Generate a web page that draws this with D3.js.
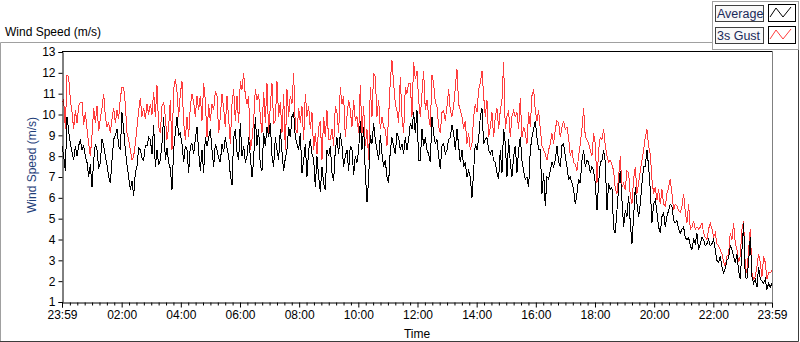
<!DOCTYPE html>
<html><head><meta charset="utf-8">
<script src="https://cdn.jsdelivr.net/npm/d3@7"></script>
<style>
html,body{margin:0;padding:0;background:#fff;}
svg{display:block;font-family:"Liberation Sans",Arial,sans-serif;}
</style></head>
<body><svg id="c" width="800" height="342"></svg>
<script>
// ---- data ----
const seriesNames = ["Average", "3s Gust"];
const startTime = new Date(2020, 0, 1, 23, 59);
const stepSeconds = 202.8;
const gust = [
10.6,10.7,9.3,11.9,11.8,10.7,10.1,9.3,10.2,9.6,10.4,10.6,10.6,9.5,10.1,9.3,8.6,8.0,9.0,10.3,9.6,10.4,9.2,9.8,10.3,11.0,9.9,9.4,9.6,9.1,9.8,10.3,9.6,10.2,9.8,10.8,11.3,11.3,10.5,9.1,8.8,8.3,7.8,8.0,8.6,9.4,10.2,10.8,9.9,10.3,9.8,10.5,10.0,
10.5,10.0,11.1,9.9,11.4,9.4,9.1,10.4,10.6,9.9,8.8,9.4,10.7,8.3,11.2,11.7,11.1,9.9,11.0,11.6,9.6,8.8,9.9,8.9,10.4,11.0,10.6,9.9,10.9,10.2,10.9,9.7,11.5,10.7,8.9,10.5,9.7,10.5,10.2,11.1,10.9,9.1,9.9,11.0,10.3,9.4,10.9,9.8,8.6,10.5,11.2,9.7,10.9,9.6,
11.6,11.2,12.0,10.9,10.5,10.9,8.3,8.8,9.7,11.2,10.7,11.0,9.9,9.1,11.1,9.6,11.5,9.1,10.4,11.5,9.6,9.7,11.6,9.9,10.6,9.1,11.0,8.3,11.2,9.9,10.9,10.5,12.0,9.4,9.1,10.3,9.6,10.4,8.8,11.0,9.9,10.4,9.3,10.1,8.3,9.1,8.1,9.4,9.7,7.8,9.9,8.9,10.2,8.8,
8.8,9.3,8.5,10.4,10.1,9.1,11.3,10.5,10.9,8.9,9.9,10.7,10.2,9.4,10.7,9.7,9.9,9.1,11.4,9.1,10.4,8.5,9.3,7.8,11.3,9.9,12.0,11.8,9.9,10.7,9.3,9.9,9.4,9.3,8.5,9.9,11.6,12.6,11.5,10.5,10.2,9.6,11.8,9.9,9.1,11.3,11.0,11.5,11.5,9.9,12.5,11.7,12.1,10.7,
9.9,11.0,12.1,10.2,10.7,9.9,9.4,11.9,11.5,10.6,10.4,9.4,9.1,10.1,10.2,9.7,10.4,11.2,10.2,9.9,10.4,11.3,12.2,10.5,10.2,9.9,9.3,9.7,8.6,9.1,8.3,8.6,9.9,10.5,10.1,11.2,11.5,12.1,10.9,9.9,10.7,8.9,9.4,10.1,8.9,9.9,10.3,9.3,10.2,10.7,12.5,9.3,9.9,10.2,
8.9,9.9,10.2,9.9,10.1,9.3,10.8,8.9,9.4,9.1,8.6,10.1,9.4,10.9,11.2,10.2,9.7,10.2,9.3,8.5,8.3,8.1,7.8,8.3,8.6,9.1,8.6,9.3,9.7,9.6,8.9,9.4,9.7,9.3,9.4,8.9,8.0,8.3,7.7,7.6,7.3,8.0,8.6,9.3,10.3,8.9,8.8,8.6,8.3,8.0,9.1,8.6,6.7,8.3,
8.9,8.8,9.3,8.5,8.0,7.7,7.8,7.6,7.3,6.4,6.2,7.0,8.0,6.5,6.7,6.4,7.3,7.2,6.1,5.7,6.9,7.5,6.2,6.7,7.3,7.8,8.3,8.9,9.3,8.5,8.1,6.9,6.2,6.5,5.9,6.4,5.7,6.4,5.7,5.6,6.2,6.5,6.9,6.2,5.4,5.7,5.6,5.4,5.3,5.6,6.2,5.3,4.8,5.7,
4.5,4.6,4.9,4.5,4.6,4.5,4.6,4.8,4.3,4.1,4.0,4.5,4.8,4.5,4.1,4.3,3.8,3.7,3.5,3.3,2.9,2.7,3.2,3.3,4.3,4.0,4.8,3.8,3.5,2.9,3.2,4.5,4.9,2.7,2.4,3.5,4.5,2.4,2.1,2.2,2.7,3.3,2.9,2.2,3.2,2.9,2.1,2.4,2.4,2.5
];
const average = [
8.5,8.0,7.3,9.9,9.2,8.6,8.2,7.8,8.5,8.0,8.5,8.8,8.3,8.5,8.0,7.7,7.0,7.6,6.5,7.8,8.6,8.3,7.4,7.7,8.8,8.5,8.0,7.6,7.0,6.7,7.8,8.8,9.0,9.3,8.5,8.3,10.1,9.3,8.3,7.6,7.0,6.4,6.8,6.1,7.2,7.5,8.4,8.3,7.9,7.8,8.5,8.5,8.9,
8.8,8.1,9.5,7.5,8.3,7.6,7.8,8.6,9.9,7.8,8.4,7.7,7.4,6.4,8.3,9.1,9.9,9.0,9.1,8.6,7.7,8.5,8.3,7.2,8.5,8.6,8.1,8.8,9.4,8.2,7.3,8.3,7.2,8.9,8.5,8.9,9.3,8.3,7.5,8.6,8.3,7.9,7.7,8.6,8.2,8.9,8.4,8.0,7.1,6.6,8.9,9.3,8.2,7.8,
9.6,8.0,8.5,7.7,8.0,8.9,8.0,7.0,7.8,9.9,8.5,9.3,7.5,7.3,9.1,8.5,9.4,8.9,9.6,8.0,7.5,8.9,8.3,7.8,9.3,8.2,7.3,7.9,8.3,9.4,8.9,9.9,10.1,8.9,8.6,8.3,9.1,7.2,7.8,8.6,7.0,8.3,8.8,8.1,7.9,6.5,8.0,7.0,6.3,7.5,6.7,6.4,8.3,8.0,
8.5,7.2,6.8,8.3,8.9,8.1,9.1,8.5,7.5,8.0,8.3,7.3,8.5,8.3,7.1,8.0,7.7,8.3,9.7,8.3,9.4,7.2,5.8,6.9,9.0,8.6,9.6,8.8,8.3,7.8,9.0,8.1,7.5,7.8,7.0,6.7,8.3,8.9,8.5,8.1,9.1,8.9,8.3,8.6,8.1,8.9,8.3,8.8,9.6,9.3,10.1,9.1,10.2,7.8,
7.8,9.3,8.5,8.9,8.3,8.1,7.7,9.9,9.1,8.6,8.8,8.0,7.4,8.5,8.6,8.1,8.3,8.8,8.9,9.5,9.1,8.3,9.3,8.5,7.7,8.3,7.5,7.7,7.0,7.3,7.0,6.0,7.3,8.6,8.3,8.8,9.9,10.3,8.6,8.8,8.9,8.3,8.1,8.3,7.8,7.7,7.2,6.9,8.3,7.2,9.3,8.6,7.0,8.8,
7.7,7.0,8.0,8.5,7.2,8.3,8.9,7.8,7.3,6.9,7.0,6.5,8.3,8.9,9.3,9.7,8.9,8.3,8.3,6.2,7.2,5.6,7.0,6.9,7.3,7.7,7.5,7.8,8.5,7.7,7.5,8.5,8.6,8.0,7.5,6.9,7.0,6.7,6.4,5.7,6.2,6.9,6.7,7.8,8.3,7.5,7.8,7.7,7.2,7.5,7.3,6.7,5.4,6.7,
7.7,7.8,8.3,7.7,5.4,6.7,6.4,6.5,4.5,4.3,5.4,6.5,7.3,5.9,4.6,5.4,5.1,6.1,4.8,3.8,5.1,6.5,5.7,5.1,5.7,6.7,7.5,7.5,8.3,7.5,6.4,4.8,5.7,5.9,5.3,4.6,4.3,5.1,5.3,4.6,5.1,5.4,5.7,5.6,4.9,4.8,4.9,4.5,4.3,4.5,4.6,4.1,4.0,4.1,
3.7,3.5,4.0,3.8,4.3,3.5,3.8,4.1,4.0,3.7,3.8,4.0,3.7,3.8,4.0,3.5,3.0,2.9,3.2,2.7,2.4,2.6,3.0,3.1,3.7,3.5,3.2,2.9,3.3,2.5,2.1,3.5,4.8,2.2,2.1,2.9,4.1,2.2,1.9,2.1,1.7,2.7,2.1,2.0,1.9,2.1,1.6,1.9,1.7,1.9
];
const yTicks = [1,2,3,4,5,6,7,8,9,10,11,12,13];
const majorHours = [2,4,6,8,10,12,14,16,18,20,22];

// ---- chart ----
const svg = d3.select("#c");
const W = 800, H = 342;
const L = 62, R = 772, T = 52, B = 302;
const endTime = d3.timeDay.offset(startTime, 1);
const x = d3.scaleTime().domain([startTime, endTime]).range([L, R]).clamp(true);
const y = d3.scaleLinear().domain([1, 13]).range([B, T]);
const times = gust.map((_, i) => new Date(+startTime + i * stepSeconds * 1000));

svg.append("rect").attr("width", W).attr("height", H).attr("fill", "#fff");

// outer frame
svg.append("path").attr("d", `M0.5,342 V42.5 H712`).attr("fill","none").attr("stroke","#a0a0a0");
svg.append("path").attr("d", `M798.5,43 V341.5 H0`).attr("fill","none").attr("stroke","#3c3c3c");
// legend panel
svg.append("rect").attr("x",712.5).attr("y",1.5).attr("width",86).attr("height",48).attr("fill","#fff").attr("stroke","#a0a0a0");

// title
svg.append("text").attr("x",5).attr("y",36).attr("font-size",12).attr("fill","#000").text("Wind Speed (m/s)");

// plot frame
svg.append("path").attr("d", `M${L},${T-0.5} H${R}`).attr("stroke","#000").attr("fill","none");
svg.append("path").attr("d", `M${R+0.5},${T-1} V${B}`).attr("stroke","#808080").attr("fill","none");

// lines
const line = d3.line().x((d, i) => x(times[i])).y(d => y(d));
svg.append("path").datum(gust).attr("d", line).attr("fill","none").attr("stroke","#ff3c3c").attr("stroke-width",1).attr("shape-rendering","crispEdges");
svg.append("path").datum(average).attr("d", line).attr("fill","none").attr("stroke","#000").attr("stroke-width",1).attr("shape-rendering","crispEdges");

// y axis
const ya = svg.append("g").attr("transform",`translate(${L+0.5},0)`)
  .call(d3.axisLeft(y).tickValues(yTicks).tickSize(4).tickPadding(3).tickFormat(d3.format("d")));
ya.select(".domain").attr("stroke","#000");
ya.selectAll("text").attr("font-size",12).attr("font-family","Liberation Sans, Arial, sans-serif").attr("fill","#000");

// x axis
const majors = [startTime].concat(majorHours.map(h => d3.timeHour.offset(d3.timeDay.floor(endTime), h))).concat([endTime]);
const minors = d3.timeMinute.every(15).range(startTime, endTime).filter(t => t.getMinutes() !== 0 || t.getHours() % 2 !== 0);
const xm = svg.append("g").attr("transform",`translate(0,${B+0.5})`)
  .call(d3.axisBottom(x).tickValues(minors).tickSize(3).tickFormat(""));
xm.select(".domain").remove();
const xa = svg.append("g").attr("transform",`translate(0,${B+0.5})`)
  .call(d3.axisBottom(x).tickValues(majors).tickSize(5).tickPadding(3).tickFormat(d3.timeFormat("%H:%M")));
xa.select(".domain").attr("stroke","#000");
xa.selectAll("text").attr("font-size",12).attr("font-family","Liberation Sans, Arial, sans-serif").attr("fill","#000");

// axis titles
svg.append("text").attr("x",(L+R)/2).attr("y",338).attr("text-anchor","middle").attr("font-size",12).attr("fill","#000").text("Time");
svg.append("text").attr("transform",`translate(36,${(T+B)/2 - 12}) rotate(-90)`).attr("text-anchor","middle").attr("font-size",12).attr("fill","#1f3f7a").text("Wind Speed (m/s)");

// legend
const colors = ["#000", "#ff3c3c"];
seriesNames.forEach((name, k) => {
  const gy = 5 + k * 22;
  svg.append("rect").attr("x",715.5).attr("y",gy+0.5).attr("width",48).attr("height",16).attr("fill","#f8f8f8").attr("stroke","#404040");
  svg.append("text").attr("x",717).attr("y",gy+13).attr("font-size",12.5).attr("fill","#1a2a5a").text(name);
  svg.append("rect").attr("x",768.5).attr("y",gy-0.5).attr("width",27).attr("height",17).attr("fill","#fff").attr("stroke","#000");
  svg.append("path").attr("d",`M770,${gy+12} L776,${gy+3} L783,${gy+12} L791,${gy+2}`).attr("fill","none").attr("stroke",colors[k]);
});
</script></body></html>
